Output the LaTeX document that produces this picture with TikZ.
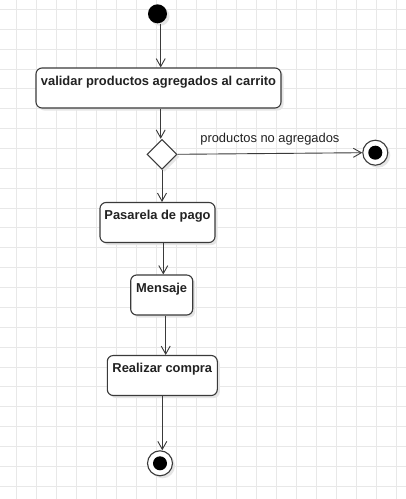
\documentclass[tikz,border=0pt]{standalone}
\usepackage{fontspec}
\setmainfont{Liberation Sans}
\usetikzlibrary{arrows.meta,shapes.geometric,shadows}
\definecolor{gridc}{HTML}{E8E8E8}
\definecolor{linec}{HTML}{3A3A3A}
\definecolor{textc}{HTML}{222222}
\tikzset{
  shad/.style={drop shadow={shadow xshift=2.5pt,shadow yshift=-2.5pt,fill=black!10,opacity=1}},
  actbox/.style={draw=linec,line width=1.1pt,fill=white,rounded corners=6pt,shad,
    inner xsep=0pt,inner ysep=0pt,text height=17pt,text depth=23pt,
    font=\fontsize{12.9}{14}\selectfont\bfseries,text=textc},
  startnode/.style={circle,fill=black,minimum size=19pt,inner sep=0pt,shad},
  endnode/.style={circle,draw=linec,line width=1.1pt,fill=white,minimum size=25pt,inner sep=0pt,shad,
    path picture={\fill[black] (path picture bounding box.center) circle (7pt);}},
  decision/.style={diamond,draw=linec,line width=1.1pt,fill=white,minimum width=30pt,minimum height=30pt,inner sep=0pt,shad},
  arr/.style={draw=linec,line width=0.9pt,-{Straight Barb[length=8pt,width=9pt,line width=0.9pt]}},
  elabel/.style={font=\fontsize{12.9}{14}\selectfont,text=textc,inner sep=0pt}
}
\begin{document}
\begin{tikzpicture}[x=1pt,y=-1pt]
\useasboundingbox (0,0) rectangle (406,499);
\fill[white] (0,0) rectangle (406,499);
% grid
\foreach \i in {0,...,19} {\draw[gridc,line width=0.8pt] ({16.7+20*\i},0) -- ({16.7+20*\i},499);}
\foreach \j in {0,...,24} {\draw[gridc,line width=0.8pt] (0,{9.3+19.87*\j}) -- (406,{9.3+19.87*\j});}
% nodes
\node[startnode] (start) at (157.5,13.8) {};
\node[actbox,minimum width=245pt] (b1) at (158.5,88) {validar productos agregados al carrito};
\node[decision] (d) at (162,154.3) {};
\node[endnode] (f1) at (375.3,152.7) {};
\node[actbox,minimum width=115pt] (b2) at (157.5,222.5) {Pasarela de pago};
\node[actbox,minimum width=62pt] (b3) at (161.7,295) {Mensaje};
\node[actbox,minimum width=110pt] (b4) at (162.3,375.5) {Realizar compra};
\node[endnode] (f2) at (160,463.3) {};
% connectors
\draw[arr] ([xshift=3.2pt]start.south) -- ([xshift=3.2pt]start.south |- b1.north);
\draw[arr] ([xshift=2.2pt]b1.south) -- ([xshift=2.2pt]b1.south |- d.north);
\draw[arr] (d.east) -- node[elabel,anchor=base,yshift=11pt] {productos no agregados} (f1.west);
\draw[arr] (d.south) -- (d.south |- b2.north);
\draw[arr] ([xshift=5.8pt]b2.south) -- ([xshift=5.8pt]b2.south |- b3.north);
\draw[arr] ([xshift=4pt]b3.south) -- ([xshift=4pt]b3.south |- b4.north);
\draw[arr] (b4.south) -- (b4.south |- f2.north);
\end{tikzpicture}
\end{document}
